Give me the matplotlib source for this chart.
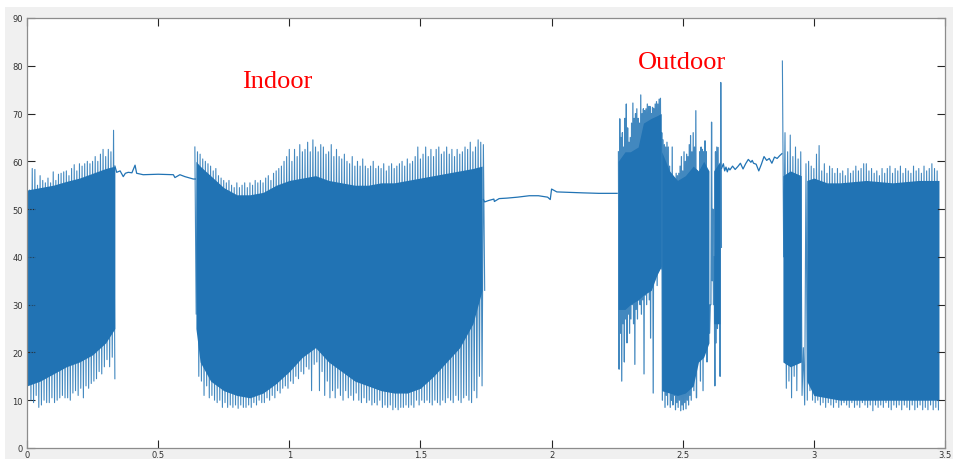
import numpy as np
import matplotlib
matplotlib.use("Agg")
import matplotlib.pyplot as plt
from matplotlib.patches import Rectangle

BLUE = "#2173b4"

# ---- dense parts: spike tips sampled every 0.01 (outdoor burst every 0.005) ----
a_start, a_step = 0.0, 0.01
a_hi = [67, 54, 58.5, 58.3, 55, 57, 56, 55.5, 56.5, 55.5, 57.8, 56, 57.3, 57.5, 57.8, 58, 57,
        58.5, 59.3, 58, 59.5, 59, 59.5, 60, 59.5, 60, 61, 60, 61.5, 62.5, 61, 62.5, 62, 66.5]
a_lo = [26, 10, 9.5, 11, 8.5, 9, 10, 9.5, 9.5, 10.5, 9.5, 10, 10.5, 11, 10.5, 10.5, 10,
        11.5, 12, 11, 12.5, 10.5, 13, 12.5, 13.5, 14, 14.5, 16, 15.5, 17, 18.5, 17, 19, 14.5]

c_start, c_step = 0.64, 0.01
c_hi = [63, 62, 61.5, 60.5, 60, 59.5, 59, 58, 58.5, 57, 56.5, 56, 55.5, 56, 55, 54.5, 55.5, 54.5,
        55, 55.5, 54.5, 55.5, 55, 56, 55.5, 56, 55.5, 56.5, 57, 56, 57.5, 58, 58.5, 59, 60, 61,
        62.5, 60, 62.5, 61, 63.5, 62, 62.5, 64, 62, 64.5, 63, 62, 63.5, 63, 61.5, 62, 63.5, 61,
        62.5, 61, 60.5, 61.5, 60, 59.5, 61, 59, 60, 59, 60.5, 59, 58.5, 59, 60, 58.5, 59, 58.5,
        59.5, 58, 59, 59.5, 58.5, 59, 59.5, 60, 59, 60.5, 59.5, 60, 61, 63, 60.5, 61.5, 63, 61,
        62.5, 61, 62.5, 63, 61.5, 62, 63, 61.5, 62.5, 61, 62.5, 61.5, 62, 63, 62.5, 64, 62, 63,
        64.5, 64, 63.5]
c_lo = [28, 15, 14, 11, 13, 10.5, 11, 10, 9.5, 10, 8.5, 9.5, 8.5, 9, 8.5, 9, 8.3, 9, 8.5, 8.5,
        9, 8.5, 9.5, 9, 10, 9.5, 9.5, 10.5, 10, 11, 10.5, 12, 11.5, 12.5, 13, 12.5, 14, 13.5, 15,
        14.5, 16, 15.5, 17, 16.5, 12, 17.5, 18, 12, 16, 11, 14, 10.5, 12, 10.5, 12.5, 11, 10, 12,
        10.5, 11, 10, 11.5, 10, 9.5, 10.5, 9.5, 10, 9, 9.5, 9, 10, 8.5, 9, 8.5, 9, 8, 8.5, 8, 8.5,
        8.5, 9, 8.5, 9, 8.5, 10, 9, 10, 9.5, 10, 9.5, 9, 10, 9.5, 9, 10, 9.5, 10.5, 10, 9.5, 11,
        10, 9.5, 10.5, 11, 10, 9.5, 12, 10.5, 15, 13, 33]

e_start, e_step = 2.255, 0.005
e_hi = [62, 68.9, 65, 66, 63, 69, 72, 67, 64, 65, 68, 72.2, 69, 70, 71, 69, 68, 73.9, 70, 71,
        70.6, 71, 72, 71.5, 71.5, 70, 71.3, 71, 72, 72.5, 72, 73, 73.2, 66, 64.5, 63.5, 63, 64,
        63, 59, 57, 63, 56, 54, 57.5, 57, 57.5, 59, 61, 58, 62, 60, 61.5, 61, 63.5, 65.4, 62, 66,
        63, 70.6, 58, 45, 62, 63, 62.5, 62, 64.3, 62, 57, 30, 30, 68.2, 50, 40, 62, 63, 62.9, 55,
        76.5]
e_lo = [16.5, 24, 14, 26, 18, 27, 22, 28, 24, 27, 30, 26, 17.5, 29, 27, 31, 30, 28, 31, 15.5,
        32, 30, 33, 31, 23, 34, 11.5, 35, 36, 34, 37, 38, 37.5, 10, 12, 8.5, 11, 9, 12, 8.5, 10,
        9, 11, 8, 9.5, 8.5, 10, 7.8, 9, 8, 9.5, 8.2, 10, 9, 11, 10, 14, 12, 16, 10.5, 20, 24,
        14, 22, 12, 20, 27, 18, 30, 24, 30, 35, 30, 13, 22, 25, 28, 15, 42]

h_start, h_step = 2.88, 0.01
h_hi = [81, 66, 62, 65.5, 61, 63, 60.5, 62, 21, 59.5, 60, 59, 58.5, 61.5, 63.3, 58, 59.5, 57.5,
        59, 58.5, 57.5, 58.5, 57.5, 58, 57, 58.5, 57.5, 58, 59, 58, 58.5, 59.5, 59.5, 58, 58.5,
        57.5, 58, 57, 58.5, 57.5, 58.5, 59, 57.5, 58.5, 58, 59, 57.5, 58.5, 58, 57.5, 59, 58,
        58.5, 57.5, 59, 58, 58.5, 59.5, 58.5, 58]
h_lo = [40, 12.5, 14, 10.5, 15, 12, 18, 11, 9, 10, 12, 10, 9.5, 10, 9, 9.5, 8.5, 9.5, 9, 8.5,
        9.5, 8.5, 9, 9.5, 9, 8.5, 9.5, 8.5, 9, 8.5, 9.5, 9, 8.5, 9, 7.8, 9, 8.5, 9, 8.5, 9.5, 8.5,
        8, 9, 8.5, 9, 8, 9, 8.5, 8, 9, 8, 8.5, 9, 8, 8.5, 8, 9, 8, 8.5, 8]

# ---- solid body of the dense parts (envelope of the filled area) ----
a_tb = [0.0, 0.05, 0.1, 0.15, 0.2, 0.25, 0.3, 0.335]
a_bhi = [54, 54.5, 55, 55.8, 56.5, 57.5, 58.5, 59]
a_blo = [13, 14, 15.5, 17, 18, 19.5, 22, 25]

c_tb = [0.644, 0.66, 0.70, 0.75, 0.80, 0.85, 0.90, 0.95, 1.00, 1.05, 1.10, 1.15, 1.20, 1.25,
        1.30, 1.35, 1.40, 1.45, 1.50, 1.55, 1.60, 1.65, 1.70, 1.735]
c_bhi = [60, 59, 57, 54.5, 53, 53, 53.5, 55, 56, 56.5, 57, 56, 55.5, 55, 55, 55.5, 55.5, 56,
         56.5, 57, 57.5, 58, 58.5, 59]
c_blo = [25, 18, 14, 12, 11, 10.5, 11.5, 13.5, 16, 19, 21, 18, 16, 14, 13, 12, 11.5, 11.5,
         12.5, 15, 18, 21, 26, 33]

e1_tb = [2.254, 2.28, 2.30, 2.33, 2.35, 2.38, 2.40, 2.418]
e1_bhi = [60, 62, 62, 63, 68, 69, 69.5, 70]
e1_blo = [29, 29, 30, 31, 32, 33, 36, 38]

e2_tb = [2.42, 2.45, 2.48, 2.51, 2.54, 2.56, 2.58, 2.60]
e2_bhi = [62, 58, 56, 57, 59, 58, 60, 58]
e2_blo = [12, 11.5, 11, 11.5, 13, 18, 19, 22]

e3_tb = [2.618, 2.642]
e3_bhi = [58, 60]
e3_blo = [26, 26]

g_tb = [2.882, 2.91, 2.952]
g_bhi = [57, 58, 57]
g_blo = [18, 17, 18]

h_tb = [2.973, 3.0, 3.05, 3.1, 3.2, 3.3, 3.4, 3.477]
h_bhi = [56, 56.5, 55.5, 55.5, 56, 55.5, 56, 56]
h_blo = [14, 11, 10.5, 10, 10, 10, 10, 10]

# ---- quiet parts ----
b_x = [0.335, 0.342, 0.355, 0.367, 0.375, 0.386, 0.40, 0.412, 0.418, 0.443, 0.50, 0.558,
       0.564, 0.583, 0.602, 0.634, 0.642]
b_y = [59, 57.7, 58, 56.8, 57.5, 57.7, 57.6, 59.2, 57.5, 57.2, 57.3, 57.2, 56.6, 57.2, 56.8,
       56.3, 56.3]

d_x = [1.74, 1.745, 1.76, 1.78, 1.782, 1.80, 1.83, 1.87, 1.915, 1.95, 1.985, 1.995, 2.00,
       2.02, 2.07, 2.12, 2.18, 2.25]
d_y = [52, 51.5, 51.8, 52.1, 51.6, 52.2, 52.3, 52.5, 52.8, 52.8, 52.5, 52, 54.2, 53.6, 53.5,
       53.4, 53.3, 53.3]

f_x = [2.648, 2.655, 2.66, 2.665, 2.67, 2.675, 2.68, 2.69, 2.70, 2.71, 2.72, 2.73, 2.74, 2.75,
       2.76, 2.765, 2.77, 2.78, 2.79, 2.80, 2.81, 2.82, 2.83, 2.84, 2.85, 2.86, 2.87, 2.878]
f_y = [58.5, 59.5, 58, 58.8, 57.8, 58.6, 58.2, 59, 58.3, 58.9, 59.6, 58.4, 59.5, 60.4, 59.8,
       60.2, 59.6, 59.4, 58.0, 59.4, 61.0, 60.2, 60.6, 59.6, 60.9, 60.6, 61.2, 61.6]

x_ticks = [0, 0.5, 1, 1.5, 2, 2.5, 3, 3.5]
x_labels = ["0", "0.5", "1", "1.5", "2", "2.5", "3", "3.5"]
y_ticks = list(range(0, 91, 10))

fig = plt.figure(figsize=(9.54, 4.6), dpi=100, facecolor="white")
fig.patches.append(Rectangle((5 / 954, 0), 1, 452 / 460, transform=fig.transFigure,
                             facecolor="#f0f0f0", edgecolor="none", zorder=-10))
ax = fig.add_axes([27 / 954, 11 / 460, 918 / 954, 430 / 460])


def spikes(start, step, hi, lo, lw):
    # the signal swings from each top value down to the matching bottom value
    t = start + step * np.arange(len(hi))
    xs = np.column_stack([t, t + step / 2]).ravel()
    ys = np.column_stack([hi, lo]).ravel()
    ax.plot(xs, ys, color=BLUE, lw=lw, alpha=0.85)


bodies = [(a_tb, a_blo, a_bhi), (c_tb, c_blo, c_bhi), (e1_tb, e1_blo, e1_bhi),
          (e2_tb, e2_blo, e2_bhi), (e3_tb, e3_blo, e3_bhi), (g_tb, g_blo, g_bhi),
          (h_tb, h_blo, h_bhi)]
for tb, bl, bh in bodies:
    ax.fill_between(tb, bl, bh, color=BLUE, lw=0)

spikes(a_start, a_step, a_hi, a_lo, 0.8)
spikes(c_start, c_step, c_hi, c_lo, 0.8)
spikes(e_start, e_step, e_hi, e_lo, 0.9)
spikes(h_start, h_step, h_hi, h_lo, 0.8)

for xs, ys in [(b_x, b_y), (d_x, d_y), (f_x, f_y)]:
    ax.plot(xs, ys, color=BLUE, lw=0.9)

ax.text(0.955, 76.8, "Indoor", color="red", fontsize=19, family="Liberation Serif",
        ha="center", va="center")
ax.text(2.497, 80.8, "Outdoor", color="red", fontsize=19, family="Liberation Serif",
        ha="center", va="center")

ax.set_xlim(0, 3.5)
ax.set_ylim(0, 90)
ax.set_xticks(x_ticks)
ax.set_xticklabels(x_labels)
ax.set_yticks(y_ticks)
ax.tick_params(direction="in", length=5.5, width=0.8, color="#262626", labelsize=6,
               labelcolor="#333333", top=True, right=True)
ax.tick_params(axis="x", pad=1.5)
ax.tick_params(axis="y", pad=3)
for s in ax.spines.values():
    s.set_color("#8c8c8c")
    s.set_linewidth(0.9)

plt.savefig("out.png", dpi=100, facecolor=fig.get_facecolor())
